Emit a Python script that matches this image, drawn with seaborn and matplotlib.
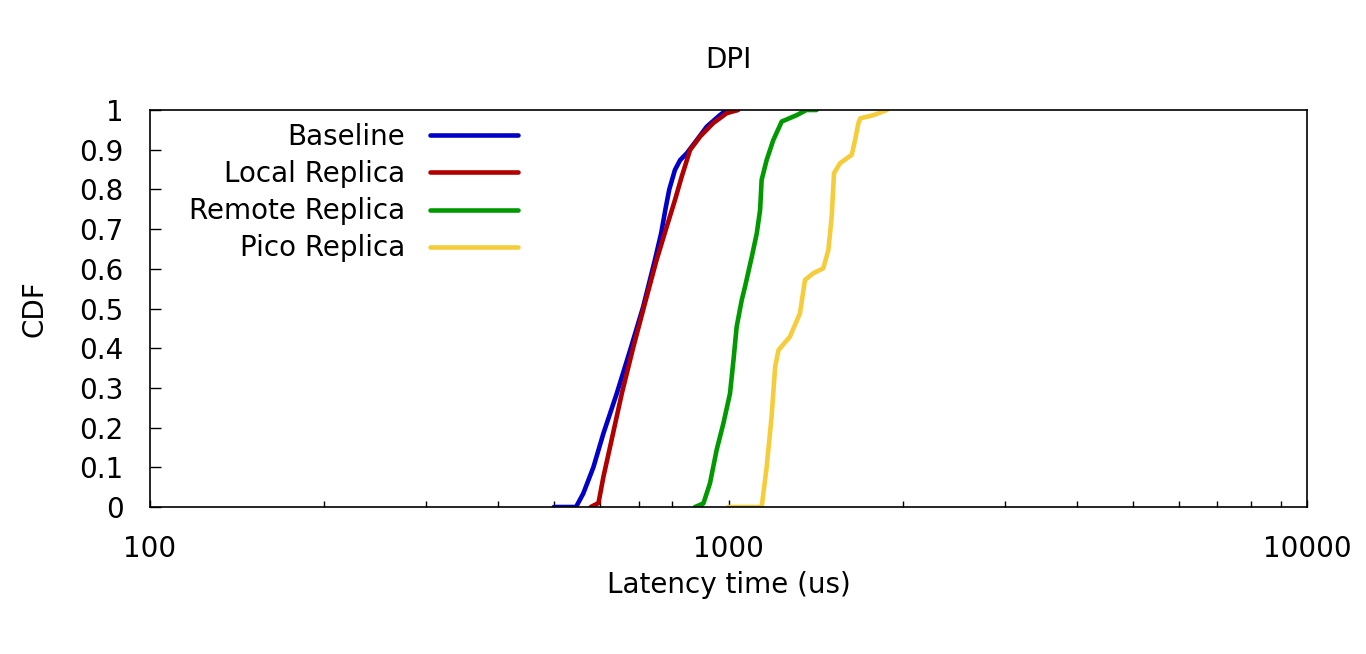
import numpy as np
import pandas as pd
import matplotlib
matplotlib.use("Agg")
import matplotlib.pyplot as plt
import seaborn as sns
from matplotlib.ticker import LogLocator, FixedLocator, NullFormatter, FixedFormatter

# Data (latency in us, CDF value)
baseline_x = [499, 545, 561, 584, 608, 641, 676, 712, 746, 765, 778, 790, 808, 825, 847, 881, 917, 966, 993, 1033]
baseline_y = [0.0, 0.0, 0.034, 0.10, 0.186, 0.286, 0.395, 0.504, 0.622, 0.690, 0.750, 0.800, 0.849, 0.874, 0.891, 0.924, 0.958, 0.987, 1.0, 1.0]

local_x = [578, 596, 608, 628, 654, 685, 717, 751, 782, 808, 830, 858, 893, 941, 993, 1039]
local_y = [0.0, 0.01, 0.077, 0.169, 0.286, 0.404, 0.513, 0.622, 0.706, 0.773, 0.832, 0.899, 0.933, 0.967, 0.992, 1.0]

remote_x = [875, 905, 929, 954, 980, 1006, 1020, 1033, 1054, 1068, 1097, 1119, 1134, 1141, 1164, 1195, 1236, 1312, 1364, 1420]
remote_y = [0.0, 0.009, 0.06, 0.144, 0.211, 0.286, 0.370, 0.454, 0.521, 0.555, 0.630, 0.689, 0.748, 0.824, 0.874, 0.924, 0.971, 0.987, 1.0, 1.0]

pico_x = [999, 1141, 1164, 1187, 1204, 1220, 1277, 1329, 1356, 1402, 1458, 1488, 1508, 1522, 1559, 1633, 1655, 1677, 1690, 1781, 1879]
pico_y = [0.0, 0.0, 0.10, 0.227, 0.353, 0.395, 0.429, 0.488, 0.572, 0.589, 0.601, 0.647, 0.731, 0.841, 0.866, 0.887, 0.924, 0.967, 0.979, 0.987, 1.0]

series_names = ["Baseline", "Local Replica", "Remote Replica", "Pico Replica"]
series_colors = ["#0000c8", "#b00000", "#009a00", "#f5cd3a"]

x_tick_values = [100, 1000, 10000]
x_tick_labels = ["100", "1000", "10000"]
y_tick_labels = ["0", "0.1", "0.2", "0.3", "0.4", "0.5", "0.6", "0.7", "0.8", "0.9", "1"]

frames = []
for name, xs, ys in zip(series_names, [baseline_x, local_x, remote_x, pico_x],
                        [baseline_y, local_y, remote_y, pico_y]):
    frames.append(pd.DataFrame({"latency": xs, "cdf": ys, "series": name}))
df = pd.concat(frames, ignore_index=True)

sns.set_style("white")
plt.rcParams["font.family"] = ["DejaVu Sans"]
plt.rcParams["text.color"] = "black"
plt.rcParams["axes.labelcolor"] = "black"
plt.rcParams["xtick.color"] = "black"
plt.rcParams["ytick.color"] = "black"

FS = 20

fig = plt.figure(figsize=(13.66, 6.54), dpi=100)
ax = fig.add_axes([150 / 1366, 1 - 507 / 654, (1307 - 150) / 1366, (507 - 110) / 654])

sns.lineplot(data=df, x="latency", y="cdf", hue="series",
             hue_order=series_names, palette=dict(zip(series_names, series_colors)),
             sort=False, estimator=None, linewidth=3.3, ax=ax)

ax.set_xscale("log")
ax.set_xlim(100, 10000)
ax.set_ylim(0, 1)

ax.xaxis.set_major_locator(FixedLocator(x_tick_values))
ax.xaxis.set_major_formatter(FixedFormatter(x_tick_labels))
ax.xaxis.set_minor_locator(LogLocator(base=10, subs=np.arange(2, 10)))
ax.xaxis.set_minor_formatter(NullFormatter())
ax.set_yticks(np.linspace(0, 1, 11))
ax.set_yticklabels(y_tick_labels)

ax.tick_params(axis="both", which="major", direction="in", length=8, width=1, labelsize=FS,
               colors="black", bottom=True, left=True, top=False, right=False)
ax.tick_params(axis="x", which="major", length=5, pad=20)
ax.tick_params(axis="y", which="major", pad=19)
ax.tick_params(axis="x", which="minor", direction="in", length=4, width=1, bottom=True, top=False)

for s in ax.spines.values():
    s.set_color("black")
    s.set_linewidth(1.2)

ax.set_xlabel("Latency time (us)", fontsize=FS, labelpad=6)
ax.set_ylabel("CDF", fontsize=FS, labelpad=22)
ax.set_title("DPI", fontsize=FS, pad=30)

handles, labels = ax.get_legend_handles_labels()
ax.legend(handles, labels, loc="upper right", bbox_to_anchor=((518 - 150) / 1157, 1 - 13 / 397),
          frameon=False, markerfirst=False, fontsize=FS, handlelength=3.17, handletextpad=0.9,
          labelspacing=0.33, borderpad=0, borderaxespad=0, alignment="right")
for t in ax.get_legend().get_texts():
    t.set_ha("right")

fig.savefig("out.png", dpi=100)
